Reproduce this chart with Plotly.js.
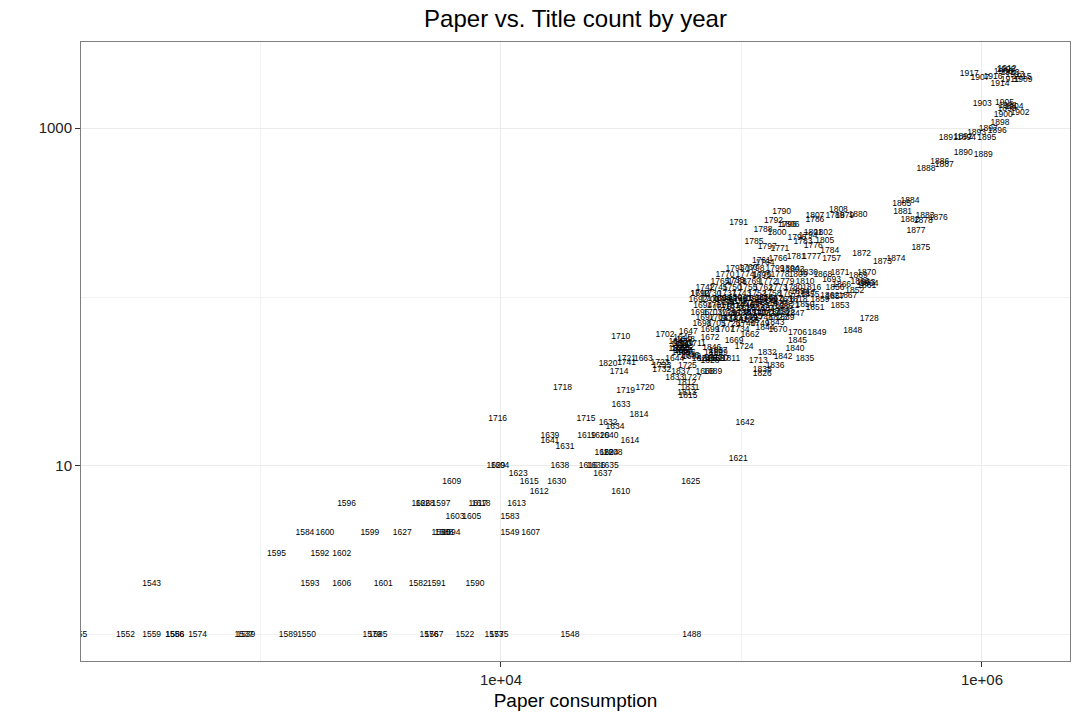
<!DOCTYPE html>
<html>
<head>
<meta charset="utf-8">
<script src="https://cdn.plot.ly/plotly-3.0.1.min.js"></script>
<style>html,body{margin:0;padding:0;background:#fff;}#chart{width:1080px;height:720px;}</style>
</head>
<body>
<div id="chart"></div>
<script>
// Year labels, paper consumption (x), title count (y)
const years = [
  1555,1552,1559,1586,1556,1574,1537,1539,1589,1550,1579,1585,1576,1567,1522,1573,1575,1548,1488,
  1543,1593,1606,1601,1582,1591,1590,
  1595,1592,1602,
  1584,1600,1599,1627,1580,1588,1594,1549,1607,
  1603,1605,1583,
  1596,1626,1628,1597,1617,1618,1613,
  1612,1610,
  1609,1615,1630,1625,
  1623,1637,
  1629,1604,1638,1616,1636,1635,1621,
  1608,1622,1624,1631,1641,1614,1639,1619,1620,1640,1634,1632,1642,1716,1715,1814,1633,1718,1720,1719,
  1813,1815,1831,1812,1727,1833,1837,1668,1689,1714,1732,1733,1725,1820,1723,1721,1741,1663,1644,1710,1702,1647,1712,1735,
  1711,1672,1846,1829,1819,1681,1687,1811,1827,1669,1724,1662,1670,1706,1849,1848,1728,1845,1840,1835,1842,1836,1832,1713,1838,1826,
  1643,1650,1655,1657,1665,1646,1682,1645,1648,1649,1651,1652,1653,1654,1656,1824,1825,1828,1659,
  1790,1808,1807,1786,1789,1879,1880,1791,1792,1806,1796,1788,1800,1785,1797,1771,1801,1802,1795,1783,1794,1805,1776,1784,1872,
  1766,1761,1764,1781,1777,1757,1760,1695,1803,1830,1871,1868,1869,1870,1693,1866,1852,1860,1863,1864,1861,1857,1867,1853,
  1793,1798,1799,1804,
  1770,1774,1775,1778,1809,
  1765,1768,1769,1772,1779,1810,
  1742,1745,1750,1755,1762,1773,1780,1816,
  1690,1730,1737,1743,1752,1758,1767,1817,
  1692,1700,1736,1744,1751,1759,1763,1818,
  1694,1701,1731,1746,1753,1782,1821,
  1696,1703,1729,1738,1747,1754,1822,
  1697,1704,1717,1739,1748,1823,
  1698,1705,1726,1740,1749,
  1699,1707,1734,1709,
  1854,1855,1787,1859,1862,1856,1850,1851,1847,1839,1843,1844,
  1658,1660,1661,1664,1666,1667,
  1671,1673,1674,1675,1676,1677,
  1678,1679,1680,1683,1684,1685,
  1686,1688,1691,1708,1722,1756,
  1834,1841,1858,1865,
  1912,1917,1906,1908,1910,1907,1916,1913,1915,1911,1909,1914,1903,1905,1901,1904,1899,1902,1900,1898,1897,1896,1893,
  1891,1892,1894,1895,1890,1889,1886,1887,1888,1884,1885,1881,1883,1882,1878,1876,1877,1875,1873,1874
];
const paper = [
  174,275,353,441,440,548,855,870,1305,1556,2908,3080,5020,5265,7080,9350,9810,19360,62100,
  353,1607,2178,3243,4530,5390,7800,
  1167,1767,2178,
  1531,1854,2851,3890,5630,5795,6195,10900,13290,
  6440,7560,10900,
  2282,4645,4830,5630,8020,8260,11620,
  14420,31500,
  6240,13110,17070,61500,
  11810,26500,
  9530,9900,17580,23070,24830,28200,97000,
  29230,26800,28120,18450,15980,34370,15980,22720,25800,28120,29800,27900,103500,9690,22560,37500,31550,18030,39700,33000,
  59200,59900,61100,59200,62400,52800,55900,70500,76000,31000,46600,46600,59600,27900,45800,33300,33300,39100,52800,31500,48100,60100,67100,94000,
  65100,74000,75200,80200,76400,76000,81400,90500,80000,93200,102600,108500,142000,171000,206000,290000,340000,171000,167000,183500,149000,138000,128000,117400,122000,122000,
  54400,56600,54400,57100,56000,61100,62000,57000,58500,57500,55500,58000,56000,57500,59000,68000,72000,74000,78000,
  146900,253000,202000,202000,245000,269000,305000,97300,136000,159200,155000,122900,140500,112700,128000,144500,199000,219000,170100,180200,189000,222000,199000,233000,316000,
  142000,121000,125200,169000,196000,237000,106600,121000,167000,190000,257000,218000,306000,331700,237000,261000,296000,311000,329000,339000,331700,245000,277000,257000,
  94000,113800,137800,159100,
  85400,103400,122000,144600,172000,
  81400,96000,110000,129000,151700,183700,
  70500,80000,91500,106500,123500,142000,164000,196000,
  67200,75500,87000,100300,116000,134000,156000,185000,
  66000,74000,84500,97000,110000,129000,149000,172000,
  69000,78500,89600,103400,119400,137800,159100,
  67200,76000,87000,100300,116000,134000,153000,
  70500,80000,92000,106500,123500,142000,
  68500,78500,90500,104500,119400,
  74000,85400,98600,79000,
  175100,192700,159100,212000,233000,245000,183700,202200,166900,151700,137800,125200,
  83000,92000,101000,113000,124000,136000,
  86000,96000,107000,118000,128000,142000,
  83000,94000,105000,114000,126000,150000,
  90000,99000,110000,121000,131000,145000,
  88000,97000,108000,112000,
  1270000,885000,1226000,1258000,1307000,981000,1111000,1371000,1466000,1306000,1481000,1189000,1003000,1240000,1282000,1359000,1270000,1439000,1226000,1189000,1062000,1158000,950000,
  724000,836000,863000,1046000,836000,1012000,668000,697000,585000,502000,464000,468000,580000,502000,570000,658000,532000,557000,386000,439000
];
const titles = [
  1,1,1,1,1,1,1,1,1,1,1,1,1,1,1,1,1,1,1,
  2,2,2,2,2,2,2,
  3,3,3,
  4,4,4,4,4,4,4,4,4,
  5,5,5,
  6,6,6,6,6,6,6,
  7,7,
  8,8,8,8,
  9,9,
  10,10,10,10,10,10,11,
  12,12,12,13,14,14,15,15,15,15,17,18,18,19,19,20,23,29,29,28,
  27,26,29,31,33,33,36,36,36,36,37,39,39,40,41,43,41,43,43,58,60,62,105,124,
  53,57,50,47,47,43,43,43,48,55,51,60,64,61,61,63,74,55,49,43,44,39,47,42,37,35,
  54,53,49,48,47,45,44,57,56,53,52,50,49,48,47,43,43,42,43,
  317,327,301,285,301,301,305,273,282,268,266,249,239,211,199,193,238,238,223,212,229,215,201,188,181,
  168,164,159,172,172,169,148,133,145,139,139,136,133,139,126,118,109,123,121,120,116,100,101,89,
  146,146,146,146,
  135,135,135,135,135,
  123,123,123,123,123,123,
  113,113,113,113,113,113,113,113,
  104,104,104,104,104,104,104,104,
  96,96,96,96,96,96,96,96,
  89,89,89,89,89,89,89,
  81,81,81,81,81,81,81,
  75,75,75,75,75,75,
  69,69,69,69,69,
  64,64,64,97,
  107,103,96,96,101,113,90,86,80,75,70,66,
  98,99,97,98,99,97,
  92,93,91,92,93,91,
  86,87,85,86,85,88,
  80,79,81,80,79,82,
  74,73,72,76,
  2234,2090,2160,2203,2115,1976,2004,2059,2004,1923,1923,1815,1384,1409,1349,1331,1295,1232,1190,1075,982,964,930,
  877,888,873,877,708,690,632,604,575,372,358,320,301,285,283,292,246,194,162,167
];

const FONT = 'Liberation Sans, Arial, Helvetica, sans-serif';

const trace = {
  type: 'scatter',
  mode: 'text',
  x: paper,
  y: titles,
  text: years.map(String),
  textposition: 'middle center',
  textfont: {family: FONT, size: 8.5, color: '#000000'},
  hoverinfo: 'skip',
  cliponaxis: true,
  showlegend: false
};

const layout = {
  width: 1080,
  height: 720,
  margin: {l: 81, r: 10, t: 42, b: 59, pad: 0},
  paper_bgcolor: '#ffffff',
  plot_bgcolor: '#ffffff',
  font: {family: FONT, color: '#000000'},
  title: {
    text: 'Paper vs. Title count by year',
    font: {family: FONT, size: 24, color: '#000000'},
    x: 0.5, xref: 'paper', xanchor: 'center',
    y: 0.974, yref: 'container', yanchor: 'middle'
  },
  xaxis: {
    type: 'log',
    range: [2.254, 6.366],
    tickmode: 'array',
    tickvals: [1e4, 1e6],
    ticktext: ['1e+04', '1e+06'],
    ticks: 'outside', ticklen: 5, tickcolor: '#333333', tickwidth: 1,
    tickfont: {family: FONT, size: 15, color: '#222222'},
    showgrid: true, gridcolor: '#ebebeb', gridwidth: 1,
    minor: {tickmode: 'array', tickvals: [1e3, 1e5], showgrid: true, gridcolor: '#f2f2f2', gridwidth: 1, ticklen: 0},
    zeroline: false,
    showline: true, linecolor: '#7f7f7f', linewidth: 1, mirror: true,
    title: {text: 'Paper consumption', font: {family: FONT, size: 19, color: '#000000'}, standoff: 6}
  },
  yaxis: {
    type: 'log',
    range: [-0.154, 3.509],
    tickmode: 'array',
    tickvals: [10, 1000],
    ticktext: ['10', '1000'],
    ticks: 'outside', ticklen: 5, tickcolor: '#333333', tickwidth: 1,
    tickfont: {family: FONT, size: 15, color: '#222222'},
    showgrid: true, gridcolor: '#ebebeb', gridwidth: 1,
    minor: {tickmode: 'array', tickvals: [1, 100], showgrid: true, gridcolor: '#f2f2f2', gridwidth: 1, ticklen: 0},
    zeroline: false,
    showline: true, linecolor: '#7f7f7f', linewidth: 1, mirror: true
  }
};

Plotly.newPlot('chart', [trace], layout, {staticPlot: true, displayModeBar: false});
</script>
</body>
</html>
